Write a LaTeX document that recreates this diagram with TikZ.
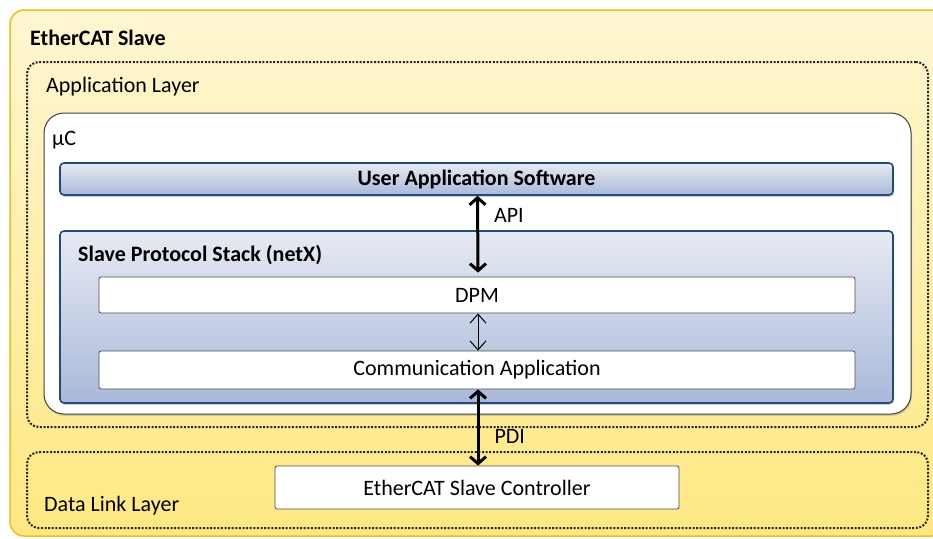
\documentclass[tikz,border=0pt]{standalone}
\usepackage{fontspec}
\setmainfont{Carlito}
\usepackage{tikz}
\usetikzlibrary{arrows.meta}
\usetikzlibrary{shadows}

\definecolor{slaveborder}{HTML}{F2BC1B}
\definecolor{slavetop}{HTML}{FFF6D2}
\definecolor{slavebottom}{HTML}{FFE882}
\definecolor{stackborder}{HTML}{24497D}
\definecolor{stacktop}{HTML}{E6EAF3}
\definecolor{stackbottom}{HTML}{AAB8D9}

\begin{document}
\begin{tikzpicture}[
    x=1pt, y=-1pt,
    every node/.style={font=\fontsize{22}{26}\selectfont, inner sep=0pt},
    slave box/.style={draw=slaveborder, line width=1.5pt, rounded corners=14pt,
        top color=slavetop, bottom color=slavebottom},
    layer box/.style={draw=black!85, line width=2pt, dash pattern=on 2pt off 1.6pt,
        rounded corners=12pt},
    mc box/.style={draw=black!75, line width=1pt, fill=white, rounded corners=20pt,
        drop shadow={shadow xshift=1pt, shadow yshift=-2pt, opacity=0.3}},
    stack box/.style={draw=stackborder, line width=1.6pt, rounded corners=4pt,
        top color=stacktop, bottom color=stackbottom,
        drop shadow={shadow xshift=1pt, shadow yshift=-2pt, opacity=0.35}},
    part box/.style={draw=black!70, line width=0.8pt, fill=white, rounded corners=2pt},
    big arrow/.style={{Straight Barb[length=7pt,width=16pt]}-{Straight Barb[length=7pt,width=16pt]}, line width=3pt},
    small arrow/.style={{Straight Barb[length=9pt,width=16pt]}-{Straight Barb[length=9pt,width=16pt]}, line width=1pt}
]
    \useasboundingbox (0,0) rectangle (933,538);
    \clip (0,0) rectangle (933,538);

    % outer boxes
    \node[slave box, minimum width=935pt, minimum height=526pt] (slave) at (477.5,273) {};
    \node[anchor=west, font=\fontsize{22}{26}\selectfont\bfseries] (slavetext) at (30,38) {EtherCAT Slave};

    \node[layer box, minimum width=901pt, minimum height=365pt] (app) at (477.5,244.5) {};
    \node[anchor=west] (apptext) at (46,87) {Application Layer};

    \node[layer box, minimum width=901pt, minimum height=76pt] (dll) at (477.5,490) {};
    \node[anchor=west] (dlltext) at (44,506) {Data Link Layer};

    % microcontroller
    \node[mc box, minimum width=867pt, minimum height=301pt] (mc) at (477.5,263.5) {};
    \node[anchor=west] (mctext) at (52,140) {µC};

    \node[stack box, minimum width=833pt, minimum height=32pt, font=\fontsize{22}{26}\selectfont\bfseries] (uas) at (476.5,179) {User Application Software};

    \node[stack box, minimum width=833pt, minimum height=172pt] (sps) at (476.5,317) {};
    \node[anchor=west, font=\fontsize{22}{26}\selectfont\bfseries] (spstext) at (78,255) {Slave Protocol Stack (netX)};

    \node[part box, minimum width=756pt, minimum height=36pt] (dpm) at (477,295) {DPM};
    \node[part box, minimum width=756pt, minimum height=38pt] (comm) at (477,370) {Communication Application};

    \node[part box, minimum width=404pt, minimum height=43pt] (esc) at (477,487.5) {EtherCAT Slave Controller};

    % connections
    \draw[big arrow] ([xshift=1pt]uas.south) -- ([xshift=1pt,yshift=4pt]dpm.north) node[pos=0.25, right=15pt] {API};
    \draw[small arrow] ([xshift=1pt]dpm.south) -- ([xshift=1pt]comm.north);
    \draw[big arrow] ([xshift=1pt]comm.south) -- ([xshift=1pt]esc.north) node[pos=0.62, right=15pt] {PDI};
\end{tikzpicture}
\end{document}
